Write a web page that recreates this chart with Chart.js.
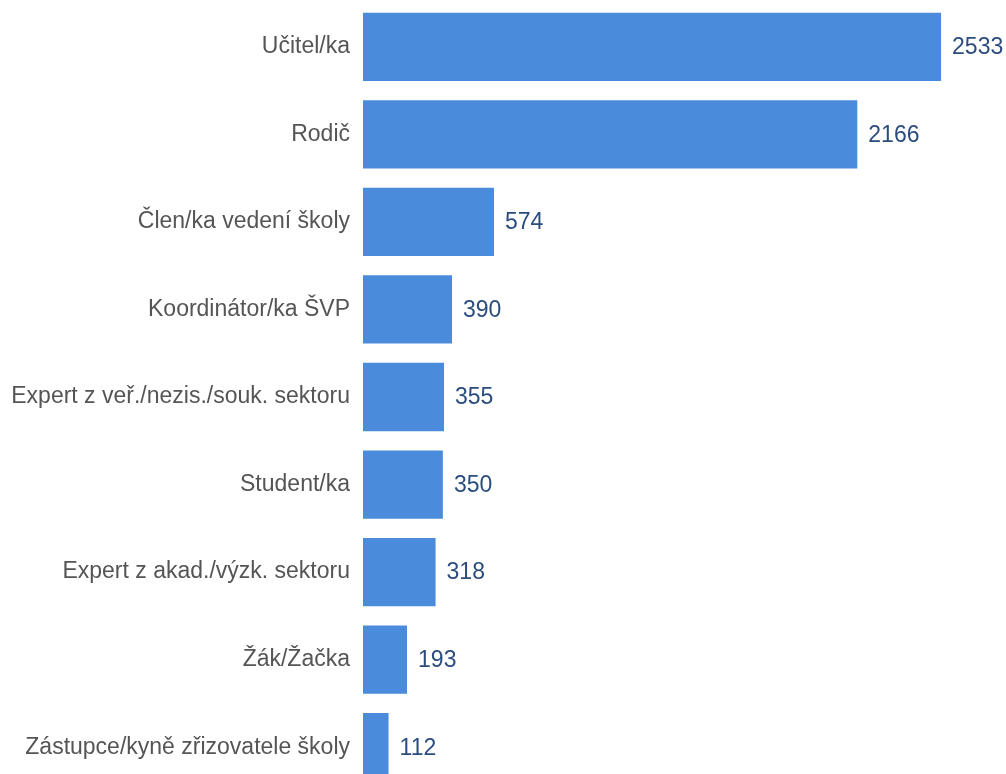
<!DOCTYPE html>
<html>
<head>
<meta charset="utf-8">
<script src="https://cdn.jsdelivr.net/npm/chart.js@4.4.0/dist/chart.umd.min.js"></script>
<style>
	html, body { margin: 0; padding: 0; background: #fff; overflow: hidden; }
	#wrap { width: 1006px; height: 774px; overflow: hidden; }
</style>
</head>
<body>
<div id="wrap"><canvas id="myChart" width="1006" height="794"></canvas></div>
<script>
var categories = [
	'Učitel/ka',
	'Rodič',
	'Člen/ka vedení školy',
	'Koordinátor/ka ŠVP',
	'Expert z veř./nezis./souk. sektoru',
	'Student/ka',
	'Expert z akad./výzk. sektoru',
	'Žák/Žačka',
	'Zástupce/kyně zřizovatele školy'
];
var counts = [2533, 2166, 574, 390, 355, 350, 318, 193, 112];

/* value labels to the right of each bar */
var valueLabels = {
	id: 'valueLabels',
	afterDatasetsDraw: function(chart) {
		var ctx = chart.ctx;
		var meta = chart.getDatasetMeta(0);
		ctx.save();
		ctx.font = '23px "Liberation Sans", Arial, sans-serif';
		ctx.fillStyle = '#2b4c7e';
		ctx.textBaseline = 'middle';
		ctx.textAlign = 'left';
		meta.data.forEach(function(bar, i) {
			ctx.fillText(String(counts[i]), bar.x + 11, bar.y + 1);
		});
		ctx.restore();
	}
};

var ctx = document.getElementById('myChart').getContext('2d');
var myChart = new Chart(ctx, {
	type: 'bar',
	data: {
		labels: categories,
		datasets: [{
			data: counts,
			backgroundColor: '#4a8cdb',
			borderWidth: 0,
			barPercentage: 0.78,
			categoryPercentage: 1.0
		}]
	},
	options: {
		indexAxis: 'y',
		responsive: false,
		animation: false,
		layout: { padding: { top: 3, bottom: 3, left: 0, right: 4 } },
		plugins: {
			legend: { display: false },
			tooltip: { enabled: false }
		},
		scales: {
			x: {
				display: false,
				min: 0,
				max: 2800
			},
			y: {
				grid: { display: false, drawTicks: false },
				border: { display: false },
				afterFit: function(scale) {
					scale.width = 363;
					scale.paddingTop = 0;
					scale.paddingBottom = 0;
				},
				ticks: {
					color: '#555555',
					padding: 13,
					font: { family: '"Liberation Sans", Arial, sans-serif', size: 23 }
				}
			}
		}
	},
	plugins: [valueLabels]
});
</script>
</body>
</html>
